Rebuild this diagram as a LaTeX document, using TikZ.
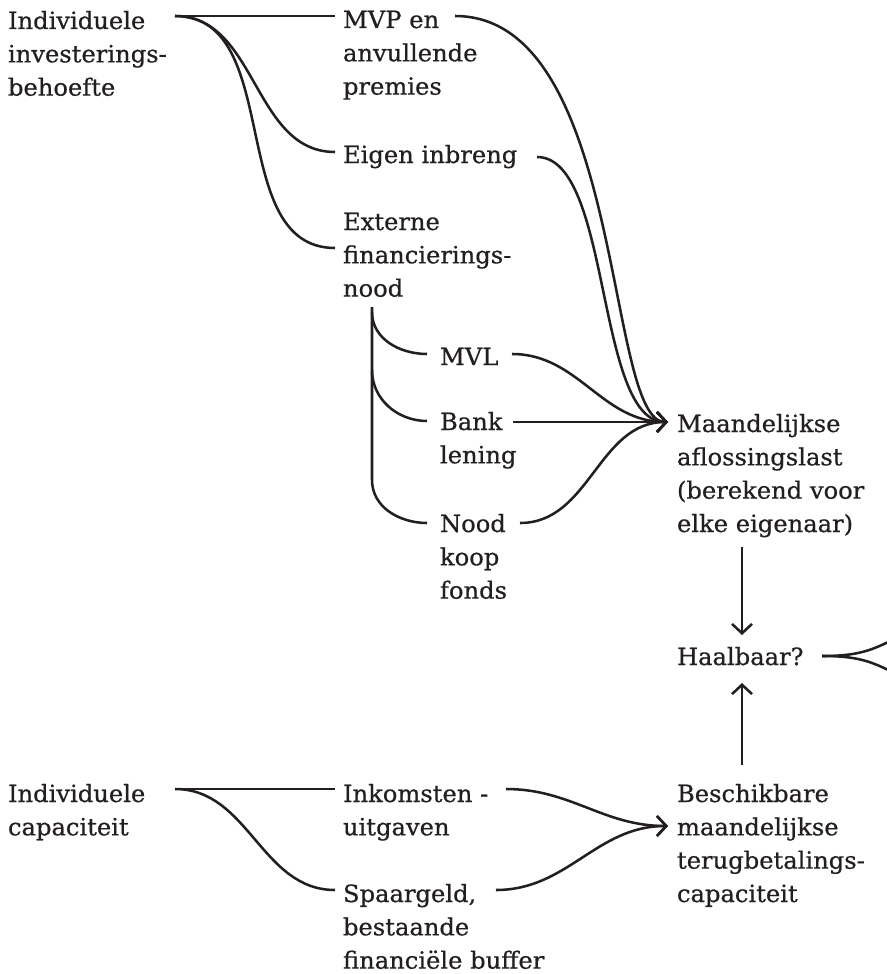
\documentclass[tikz,border=0pt]{standalone}
\usepackage{fontspec}
\setmainfont{DejaVu Serif}[FakeStretch=1.02, FakeBold=0.6]
\usetikzlibrary{arrows.meta}
\definecolor{ink}{HTML}{231F20}
\newcommand{\tb}[1]{\begin{tabular}[t]{@{}l@{}}#1\end{tabular}}
\begin{document}
\begin{tikzpicture}[x=0.75pt,y=-0.75pt,
  lbl/.style={anchor=base west, inner sep=0pt, outer sep=0pt, text=ink,
              font=\fontsize{17.8}{25}\selectfont},
  conn/.style={draw=ink, line width=1.9pt},
  arr/.style={conn, -{Straight Barb[length=7pt,width=15pt]}}]
\clip (0,0) rectangle (887,974);

% text nodes
\node[lbl] (ind)   at (8,29)    {\tb{Individuele\\investerings-\\behoefte}};
\node[lbl] (mvp)   at (343,28)  {\tb{MVP en\\anvullende\\premies}};
\node[lbl] (eig)   at (343,163) {\tb{Eigen inbreng}};
\node[lbl] (ext)   at (343,230) {\tb{Externe\\financierings-\\nood}};
\node[lbl] (mvl)   at (440,365) {\tb{MVL}};
\node[lbl] (bank)  at (440,430) {\tb{Bank\\lening}};
\node[lbl] (nood)  at (440,532) {\tb{Nood\\koop\\fonds}};
\node[lbl] (maand) at (677,432) {\tb{Maandelijkse\\aflossingslast\\(berekend voor\\elke eigenaar)}};
\node[lbl] (haal)  at (677,665) {\tb{Haalbaar?}};
\node[lbl] (cap)   at (8,802)   {\tb{Individuele\\capaciteit}};
\node[lbl] (ink)   at (343,802) {\tb{Inkomsten -\\uitgaven}};
\node[lbl] (spa)   at (343,902) {\tb{Spaargeld,\\bestaande\\financiële buffer}};
\node[lbl] (besch) at (677,802) {\tb{Beschikbare\\maandelijkse\\terugbetalings-\\capaciteit}};

% connection points
\coordinate (ind-r)  at (175,16);
\coordinate (mvp-l)  at (335,16);
\coordinate (mvp-r)  at (455,16);
\coordinate (eig-l)  at (335,152);
\coordinate (eig-r)  at (537,157);
\coordinate (ext-l)  at (335,248);
\coordinate (ext-b)  at (372,307);
\coordinate (br1)    at (372,312);
\coordinate (br2)    at (372,370);
\coordinate (br3)    at (372,480);
\coordinate (mvl-l)  at (427,354);
\coordinate (mvl-r)  at (512,354);
\coordinate (bank-l) at (427,421);
\coordinate (bank-r) at (513,422);
\coordinate (nood-l) at (427,523);
\coordinate (nood-r) at (520,523);
\coordinate (tipM)   at (668,422);
\coordinate (maand-b) at (742,547);
\coordinate (haal-t) at (742,635);
\coordinate (haal-b) at (742,683);
\coordinate (haal-r) at (822,656);
\coordinate (offA)   at (905,634);
\coordinate (offB)   at (905,678);
\coordinate (besch-t) at (742,765);
\coordinate (cap-r)  at (175,789);
\coordinate (ink-l)  at (335,789);
\coordinate (ink-r)  at (506,789);
\coordinate (spa-l)  at (335,890);
\coordinate (spa-r)  at (496,890);
\coordinate (tipB)   at (668,826);

% top tree
\draw[conn] (ind-r) -- (mvp-l);
\draw[conn] (ind-r) to[out=0,in=180] (eig-l);
\draw[conn] (ind-r) to[out=0,in=180] (ext-l);

\draw[arr] (mvp-r) .. controls (625,16) and (605,422) .. (tipM);
\draw[arr] (eig-r) .. controls (612,157) and (595,422) .. (tipM);

\draw[conn] (ext-b) -- (br3) to[out=-90,in=180] (nood-l);
\draw[conn] (br1) to[out=-90,in=180] (mvl-l);
\draw[conn] (br2) to[out=-90,in=180] (bank-l);

\draw[arr] (mvl-r) to[out=0,in=180] (tipM);
\draw[arr] (bank-r) -- (tipM);
\draw[arr] (nood-r) to[out=0,in=180] (tipM);

% middle
\draw[arr] (maand-b) -- (haal-t);
\draw[arr] (besch-t) -- (haal-b);
\draw[conn] (haal-r) .. controls (865,656) and (875,648) .. (offA);
\draw[conn] (haal-r) .. controls (865,656) and (875,664) .. (offB);

% bottom tree
\draw[conn] (cap-r) -- (ink-l);
\draw[conn] (cap-r) to[out=0,in=180] (spa-l);
\draw[arr] (ink-r) to[out=0,in=180] (tipB);
\draw[arr] (spa-r) to[out=0,in=180] (tipB);
\end{tikzpicture}
\end{document}
